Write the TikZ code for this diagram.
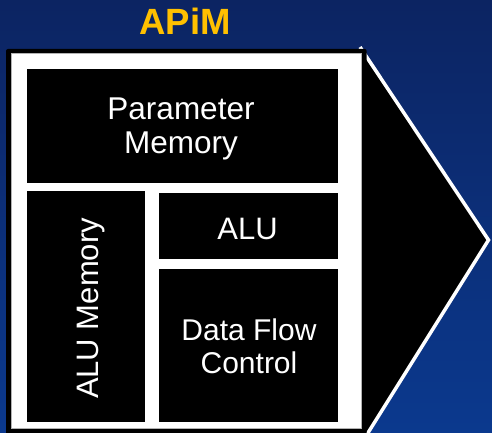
\documentclass[tikz,border=0pt]{standalone}
\usepackage{fontspec}
\setmainfont{Liberation Sans}
\definecolor{bgtop}{RGB}{12,36,98}
\definecolor{bgbot}{RGB}{11,57,142}
\definecolor{titlegold}{RGB}{255,192,0}
\begin{document}
\begin{tikzpicture}[x=1pt,y=-1pt,
  block/.style={fill=black, draw=none, inner sep=0pt, outer sep=0pt},
  lbl/.style={text=white, inner sep=0pt, align=center}]
\useasboundingbox (0,0) rectangle (492,433);
\clip (0,0) rectangle (492,433);
% backdrop
\shade[top color=bgtop, bottom color=bgbot] (0,0) rectangle (492,433);
% title
\node[font=\bfseries\fontsize{36.5}{40}\selectfont, text=titlegold,
      anchor=base, inner sep=0pt] (title) at (185,34.3) {APiM};
% arrow head behind the module
\fill[black] (360,47) -- (488.5,240) -- (363.5,440) -- cycle;
\draw[white, line width=3.5pt, line join=miter] (360,47) -- (488.5,240) -- (363.5,440);
% module frame
\fill[black, rounded corners=2pt] (6,49) rectangle (366.7,445);
\filldraw[fill=white, draw=gray!60, line width=1pt] (11,54) rectangle (361.7,428.5);
% blocks
\node[block, minimum width=311pt, minimum height=114pt] (pm) at (182.5,126) {};
\node[block, minimum width=118pt, minimum height=231pt] (alumem) at (86,306.5) {};
\node[block, minimum width=179pt, minimum height=66pt] (alu) at (248.5,226) {};
\node[block, minimum width=179pt, minimum height=153pt] (dfc) at (248.5,345.5) {};
% labels
\node[lbl, font=\fontsize{31.5}{34}\selectfont] (pmtext) at (181,128.8) {Parameter\\Memory};
\node[lbl, font=\fontsize{31}{34}\selectfont, rotate=90, anchor=base] (alumemtext) at (98,308.5) {ALU Memory};
\node[lbl, font=\fontsize{31}{34}\selectfont, anchor=base] (alutext) at (247.5,239) {ALU};
\node[lbl, font=\fontsize{30}{33}\selectfont] (dfctext) at (249,346.5) {Data Flow\\Control};
\end{tikzpicture}
\end{document}
